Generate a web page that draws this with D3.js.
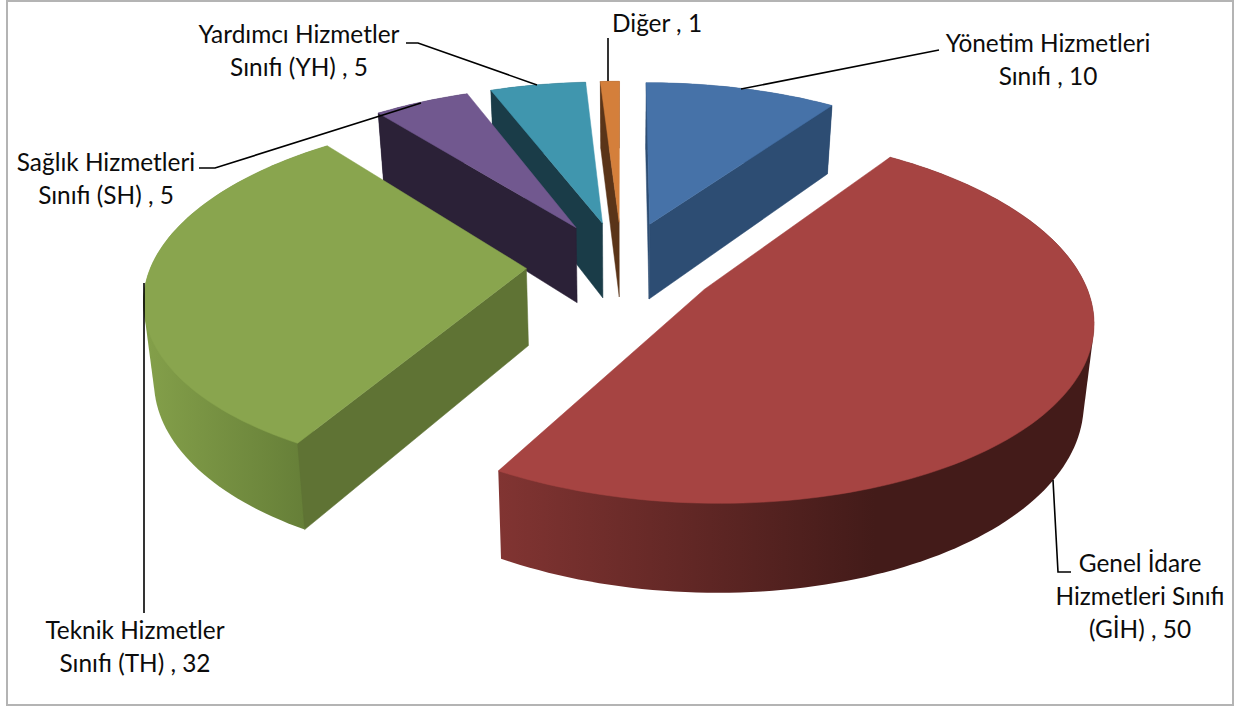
<!DOCTYPE html>
<html>
<head>
<meta charset="utf-8">
<script src="https://cdn.jsdelivr.net/npm/d3@7"></script>
<style>
html, body { margin: 0; padding: 0; background: #fff; }
svg { display: block; }
text { font-family: Lato, "Open Sans", sans-serif; font-size: 24.4px; fill: #0c0c0c; text-anchor: middle; }
</style>
</head>
<body>
<svg id="chart" width="1234" height="707"></svg>
<script>
// data
var categories = ["Yönetim Hizmetleri Sınıfı", "Genel İdare Hizmetleri Sınıfı (GİH)", "Teknik Hizmetler Sınıfı (TH)",
                  "Sağlık Hizmetleri Sınıfı (SH)", "Yardımcı Hizmetler Sınıfı (YH)", "Diğer"];
var values = [10, 50, 32, 5, 5, 1];

// styles, same order as the categories
var topColors = ["#4672a8", "#a64442", "#89a54e", "#71588f", "#4096ae", "#d47f3b"];
var wallColors = ["#2d4d73", "#431b19", "#5f7334", "#2b2137", "#1a3c48", "#5a3418"];
var rimLeft = ["#2d4d73", "#813432", "#84a04a", "#2b2137", "#1a3c48", "#5a3418"];
var rimRight = ["#2d4d73", "#431b19", "#667f38", "#2b2137", "#1a3c48", "#5a3418"];

// label text lines and where they go
var labelLines = [
    ["Yönetim Hizmetleri", "Sınıfı , 10"],
    ["Genel İdare", "Hizmetleri Sınıfı", "(GİH) , 50"],
    ["Teknik Hizmetler", "Sınıfı (TH) , 32"],
    ["Sağlık Hizmetleri", "Sınıfı (SH) , 5"],
    ["Yardımcı Hizmetler", "Sınıfı (YH) , 5"],
    ["Diğer , 1"]
];
var labelX = [1048, 1140, 135, 106, 299, 657];
var labelY = [52, 572, 639, 171, 43, 32];
var labelStep = 33;
var leaders = [
    [[939, 50], [741, 89]],
    [[1053, 480], [1058, 572], [1071, 572]],
    [[144, 283], [144, 613]],
    [[199, 168], [215, 168], [421, 103]],
    [[406, 43], [418, 43], [537, 85]],
    [[608, 38], [608, 81]]
];

var svg = d3.select("#chart");

// border
svg.append("rect")
    .attr("x", 7).attr("y", 1)
    .attr("width", 1226).attr("height", 704)
    .attr("fill", "#fff")
    .attr("stroke", "#b4b4b4")
    .attr("stroke-width", 2);

var pie = d3.pie().sort(null).startAngle(0).endAngle(2 * Math.PI);
var slices = pie(values);

// perspective view of the disc: radius 1, pieces pushed out by explode
var explode = 0.255,
    persp = 0.15,
    thick = 77,
    shrink = 0.978;

var xScale = d3.scaleLinear().domain([-1, 1]).range([622 - 375, 622 + 375]);
var yScale = d3.scaleLinear().domain([-1, 1]).range([265 + 174, 265 - 174]);
var vx = xScale(0);

function project(X, Y, level) {
    var w = 1 / (1 + persp * Y),
        sx = xScale(X * w);
    return [level ? vx + (sx - vx) * shrink : sx, yScale(Y * w) + level * thick * Math.pow(w, 0.8)];
}

function origin(d) {
    var mid = (d.startAngle + d.endAngle) / 2;
    return [explode * Math.sin(mid), explode * Math.cos(mid)];
}

function rim(d, a, level) {
    var o = origin(d);
    return project(o[0] + Math.sin(a), o[1] + Math.cos(a), level);
}

function centre(d, level) {
    var o = origin(d);
    return project(o[0], o[1], level);
}

function arcPoints(d, level) {
    var n = Math.max(2, Math.ceil((d.endAngle - d.startAngle) * 40));
    return d3.range(n + 1).map(function(i) {
        return rim(d, d.startAngle + (d.endAngle - d.startAngle) * i / n, level);
    });
}

var line = d3.line().curve(d3.curveLinear);

var defs = svg.append("defs");
slices.forEach(function(d, i) {
    var pts = arcPoints(d, 0).concat(arcPoints(d, 1)),
        grad = defs.append("linearGradient")
            .attr("id", "rim" + i)
            .attr("gradientUnits", "userSpaceOnUse")
            .attr("x1", d3.min(pts, function(p) { return p[0]; }))
            .attr("x2", i === 2 ? rim(d, d.startAngle, 1)[0] : 1000)
            .attr("y1", 0).attr("y2", 0);
    grad.append("stop").attr("offset", "0%").attr("stop-color", rimLeft[i]);
    grad.append("stop").attr("offset", i === 1 ? "75%" : "100%").attr("stop-color", rimRight[i]);
});

// back slices first
var order = [5, 4, 3, 0, 2, 1];
var g = svg.append("g");

order.forEach(function(i) {
    var d = slices[i],
        s = g.append("g").attr("class", "slice");

    // outer wall, the hull closes the notch at the widest point
    s.append("path")
        .attr("d", line(d3.polygonHull(arcPoints(d, 0).concat(arcPoints(d, 1)))) + "Z")
        .attr("fill", "url(#rim" + i + ")");

    // cut faces, only the ones turned to the viewer
    var walls = [];
    if (Math.sin(d.startAngle) <= 1e-9) walls.push(d.startAngle);
    if (Math.sin(d.endAngle) > 1e-9) walls.push(d.endAngle);
    walls.forEach(function(a) {
        s.append("path")
            .attr("d", line([centre(d, 0), rim(d, a, 0), rim(d, a, 1), centre(d, 1)]) + "Z")
            .attr("fill", wallColors[i])
            .attr("stroke", wallColors[i])
            .attr("stroke-width", 0.5);
    });

    s.append("path")
        .attr("d", line([centre(d, 0)].concat(arcPoints(d, 0))) + "Z")
        .attr("fill", topColors[i])
        .attr("stroke", topColors[i])
        .attr("stroke-width", 0.5);
});

// leader lines
g.selectAll("path.leader")
    .data(leaders)
    .enter().append("path")
    .attr("class", "leader")
    .attr("d", function(d) { return line(d); })
    .attr("fill", "none")
    .attr("stroke", "#000")
    .attr("stroke-width", 1.6);

// labels
var labels = svg.selectAll("text.label")
    .data(labelLines)
    .enter().append("text")
    .attr("class", "label")
    .attr("x", function(d, i) { return labelX[i]; })
    .attr("y", function(d, i) { return labelY[i]; });

labels.selectAll("tspan")
    .data(function(d, i) {
        return d.map(function(t) { return { t: t, x: labelX[i] }; });
    })
    .enter().append("tspan")
    .attr("x", function(d) { return d.x; })
    .attr("dy", function(d, j) { return j === 0 ? 0 : labelStep; })
    .text(function(d) { return d.t; });
</script>
</body>
</html>
